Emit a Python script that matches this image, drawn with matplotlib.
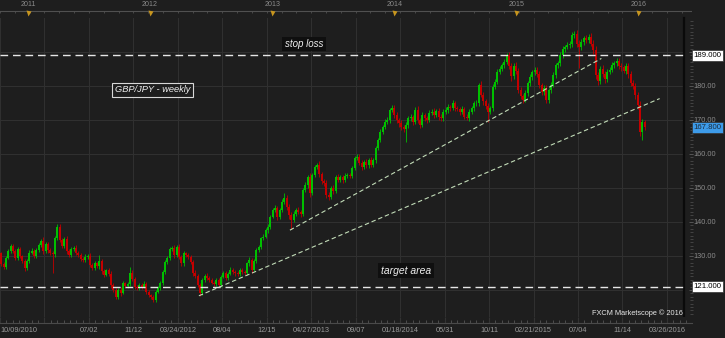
import numpy as np
import pandas as pd
import matplotlib
matplotlib.use("Agg")
import matplotlib.pyplot as plt
from matplotlib.ticker import MultipleLocator

plt.rcParams['font.family'] = ['Liberation Sans', 'DejaVu Sans']

# GBP/JPY weekly candles, first week starting 10/09/2010 (open = previous close)
start_date = pd.Timestamp("2010-10-09")
first_open = 130.8
closes = [
    127.6, 126.8, 129.5, 131.5, 132.8, 131.5, 129.5, 132.0, 130.0, 128.5,
    126.5, 128.5, 131.0, 131.5, 130.0, 131.8, 133.2, 134.5, 131.5, 133.5,
    131.8, 131.0, 130.5, 135.3, 138.5, 134.8, 133.0, 135.0, 131.5, 130.3,
    132.0, 132.5, 131.0, 130.3, 129.2, 128.8, 129.8, 130.0, 127.5, 126.5,
    127.8, 127.0, 128.5, 125.5, 124.5, 125.8, 124.8, 121.5, 120.0, 118.0,
    120.0, 119.2, 122.0, 121.2, 121.8, 125.0, 123.2, 121.0, 120.5, 121.5,
    121.0, 121.9, 119.5, 118.5, 118.0, 117.2, 119.5, 120.5, 122.0, 125.3,
    128.3, 129.3, 132.2, 132.4, 130.3, 132.7, 129.8, 127.8, 130.8, 130.3,
    129.8, 128.3, 125.0, 124.2, 121.5, 119.0, 122.8, 124.2, 123.6, 123.0,
    122.2, 121.8, 122.8, 121.6, 123.9, 124.9, 123.5, 124.8, 126.0, 125.4,
    124.9, 124.6, 125.9, 125.4, 124.9, 127.8, 128.8, 126.0, 128.5, 131.8,
    132.7, 135.2, 135.7, 137.6, 138.6, 141.6, 143.5, 144.0, 141.6, 143.5,
    146.0, 147.0, 144.5, 142.0, 140.6, 142.5, 143.5, 143.0, 142.5, 149.4,
    150.9, 153.3, 148.5, 153.8, 156.3, 156.8, 154.0, 152.0, 151.5, 148.0,
    147.5, 150.0, 149.0, 153.3, 152.5, 153.2, 152.3, 153.5, 153.8, 153.6,
    156.0, 158.7, 159.2, 157.5, 156.3, 157.7, 156.7, 158.2, 156.8, 158.2,
    161.7, 164.1, 166.6, 168.0, 169.5, 170.0, 173.0, 173.4, 171.5, 170.0,
    169.0, 168.0, 167.5, 168.5, 170.5, 170.8, 169.5, 173.0, 170.0, 168.5,
    171.5, 170.5, 170.0, 172.0, 172.5, 171.5, 172.7, 171.0, 170.5, 172.5,
    173.0, 173.9, 173.4, 174.9, 173.5, 173.3, 172.5, 173.2, 171.0, 170.5,
    172.5, 173.4, 174.9, 175.0, 180.3, 177.5, 175.5, 174.0, 172.5, 173.5,
    179.8, 181.3, 184.2, 185.0, 186.2, 187.2, 189.1, 186.0, 183.0, 186.0,
    184.5, 178.8, 177.0, 176.0, 178.0, 180.8, 182.7, 184.2, 184.7, 183.5,
    180.3, 178.3, 179.5, 175.8, 178.8, 180.3, 183.2, 186.2, 186.7, 189.1,
    191.0, 191.5, 192.0, 192.5, 195.0, 195.2, 192.5, 191.5, 193.0, 194.0,
    193.5, 194.5, 192.5, 190.5, 183.2, 181.5, 185.0, 183.5, 182.0, 184.2,
    184.7, 186.2, 186.7, 187.5, 186.0, 185.5, 184.5, 186.0, 183.5, 181.0,
    180.0, 177.3, 174.4, 166.6, 169.5, 167.8,
]
# upper / lower shadow lengths above and below the body
wick_up = [
    0.5, 0.6, 0.4, 0.5, 0.7, 0.8, 0.5, 0.6, 0.7, 0.4, 0.6, 0.5, 0.7, 0.9, 0.5, 0.6, 0.5, 0.6, 1.0, 0.5,
    0.7, 0.6, 0.5, 0.6, 0.9, 1.0, 0.6, 0.7, 0.8, 0.5, 0.6, 0.5, 0.7, 0.4, 0.6, 0.5, 0.7, 0.6, 0.8, 0.5,
    0.6, 0.5, 1.8, 0.7, 0.6, 0.5, 0.6, 0.8, 0.5, 0.6, 0.5, 0.9, 0.6, 0.5, 0.7, 1.9, 0.8, 0.6, 0.5, 0.6,
    0.5, 0.7, 0.6, 0.5, 0.4, 0.6, 0.5, 0.6, 0.7, 0.5, 0.6, 0.8, 0.5, 0.4, 0.7, 0.6, 0.9, 0.5, 0.6, 0.5,
    0.7, 0.6, 0.5, 0.8, 0.6, 0.5, 0.7, 0.6, 0.9, 0.5, 0.6, 0.5, 0.7, 0.6, 0.5, 0.6, 0.7, 0.5, 0.8, 0.6,
    0.5, 0.6, 0.7, 0.5, 0.6, 0.5, 0.8, 0.6, 0.5, 0.7, 0.6, 0.5, 0.8, 0.6, 0.7, 0.5, 0.6, 0.9, 0.7, 0.6,
    0.8, 1.5, 0.9, 0.7, 0.8, 0.6, 0.7, 0.9, 0.6, 0.7, 0.8, 0.6, 1.0, 0.7, 0.6, 0.7, 1.0, 0.8, 0.7, 0.9,
    0.8, 0.7, 0.9, 0.6, 0.8, 0.7, 0.6, 0.8, 0.6, 0.7, 0.6, 0.7, 0.8, 0.9, 0.7, 0.6, 0.8, 0.7, 0.9, 0.6,
    0.7, 0.6, 0.8, 0.6, 0.7, 0.8, 0.6, 1.1, 1.0, 0.8, 0.7, 0.9, 0.6, 0.8, 0.7, 0.9, 0.8, 0.7, 1.0, 0.7,
    0.8, 0.7, 0.6, 0.8, 0.7, 0.9, 0.6, 0.8, 0.7, 0.6, 0.8, 0.7, 0.6, 0.9, 0.8, 0.7, 0.6, 0.8, 0.7, 0.9,
    0.6, 0.7, 0.8, 0.9, 0.7, 1.2, 0.8, 0.7, 0.9, 0.6, 0.8, 0.7, 0.9, 0.8, 0.7, 0.6, 0.5, 1.0, 0.9, 0.8,
    1.1, 0.9, 0.8, 0.7, 0.9, 0.8, 0.7, 0.6, 0.9, 0.8, 1.0, 0.7, 0.9, 0.8, 0.7, 0.8, 0.9, 0.7, 0.8, 0.9,
    0.8, 0.7, 0.9, 0.8, 1.0, 0.9, 1.2, 0.9, 0.8, 0.7, 0.9, 0.8, 1.0, 1.1, 1.3, 1.0, 0.9, 1.1, 0.8, 0.7,
    0.8, 0.9, 0.7, 0.8, 0.6, 0.9, 0.8, 0.7, 0.9, 1.0, 0.8, 0.9, 1.0, 1.2, 0.9, 0.5,
]
wick_dn = [
    0.6, 0.7, 0.5, 0.4, 0.6, 0.5, 0.8, 0.6, 0.5, 0.7, 0.8, 0.5, 0.6, 0.4, 0.7, 0.5, 0.6, 0.5, 0.9, 0.6,
    0.8, 0.6, 5.5, 0.7, 0.6, 0.8, 0.7, 0.5, 0.9, 0.6, 0.5, 0.6, 0.7, 0.5, 0.6, 0.7, 0.5, 0.6, 0.8, 0.7,
    0.5, 0.6, 0.7, 0.9, 0.6, 0.5, 0.7, 0.8, 0.6, 0.7, 0.6, 0.9, 0.5, 0.6, 0.5, 0.7, 0.6, 0.8, 0.6, 0.5,
    0.6, 0.5, 0.7, 0.6, 0.5, 0.7, 0.6, 0.5, 0.6, 0.5, 0.7, 0.6, 0.5, 0.6, 0.8, 0.6, 0.7, 0.8, 0.6, 0.5,
    0.6, 0.7, 0.8, 0.6, 0.7, 0.7, 0.6, 0.5, 0.7, 0.6, 0.5, 0.7, 0.6, 0.8, 0.6, 0.5, 0.7, 0.6, 0.5, 0.6,
    0.7, 0.5, 0.6, 0.7, 0.6, 0.5, 0.6, 0.9, 0.5, 0.6, 0.5, 0.7, 0.6, 0.5, 0.7, 0.6, 0.5, 0.6, 1.0, 0.7,
    0.6, 0.8, 0.9, 1.0, 2.8, 0.7, 0.8, 0.6, 0.9, 0.7, 0.6, 0.8, 1.0, 0.7, 0.6, 0.8, 0.7, 0.9, 0.8, 1.0,
    0.9, 0.7, 0.8, 0.6, 0.8, 0.7, 0.9, 0.6, 0.7, 0.8, 0.6, 0.7, 0.6, 0.8, 0.9, 0.7, 0.8, 0.9, 0.7, 0.6,
    0.7, 0.6, 0.7, 0.8, 0.6, 0.7, 0.8, 0.7, 0.9, 0.8, 1.0, 0.9, 1.1, 3.9, 0.8, 0.7, 0.9, 0.8, 1.0, 0.9,
    0.7, 0.8, 0.9, 0.7, 0.6, 0.8, 0.7, 0.9, 0.8, 0.7, 0.6, 0.8, 0.7, 0.6, 0.8, 0.7, 0.9, 0.7, 0.8, 0.6,
    0.7, 0.6, 0.8, 0.7, 0.9, 0.8, 1.0, 0.9, 3.0, 0.8, 0.9, 0.7, 0.8, 0.7, 0.6, 0.8, 0.7, 0.9, 1.5, 1.0,
    0.9, 1.0, 0.9, 1.1, 0.8, 0.9, 0.7, 0.8, 0.9, 0.8, 1.0, 0.9, 0.8, 0.7, 0.8, 0.9, 0.7, 0.8, 0.9, 0.7,
    0.8, 0.9, 0.7, 0.8, 0.9, 1.0, 0.9, 6.3, 0.8, 0.9, 0.8, 0.9, 0.8, 1.0, 1.1, 1.2, 1.0, 0.9, 1.1, 0.9,
    0.8, 0.7, 0.9, 0.8, 0.9, 1.0, 0.8, 0.9, 1.1, 1.0, 0.9, 1.0, 1.2, 1.3, 2.5, 0.6,
]

stop_loss = 189.0
target = 121.0
last_price = 167.8
price_labels = [120, 130, 140, 150, 160, 170, 180]

# trend lines as (week index, price) end points
upper_trend = [(123.9, 137.6), (257.0, 188.1)]
lower_trend = [(85.0, 118.3), (281.9, 176.3)]

date_labels = ["10/09/2010", "", "07/02", "11/12", "03/24/2012", "08/04", "12/15",
               "04/27/2013", "09/07", "01/18/2014", "05/31", "10/11", "02/21/2015",
               "07/04", "11/14", "03/26/2016"]
years = [2011, 2012, 2013, 2014, 2015, 2016]

BG = '#1e1e1e'
GREEN = '#00c000'
RED = '#c40000'
W, H = 725, 338
PX = 2.34  # pixels per week


def box(l, t, r, b):
    return [l / W, 1 - b / H, (r - l) / W, (b - t) / H]


def weeks(dates):
    return (pd.DatetimeIndex(dates) - start_date).days.values / 7.0


fig = plt.figure(figsize=(W / 100, H / 100), dpi=100, facecolor=BG)

ax = fig.add_axes(box(0, 18, 684, 317))
ax.set_facecolor(BG)
ax.set_xlim(0, 684 / PX)
ax.set_ylim(112.06, 200.0)

grid_dates = pd.date_range(start_date, periods=len(date_labels), freq='133D')
grid_x = weeks(grid_dates)
ax.set_xticks(grid_x)
ax.set_yticks(np.arange(120, 200, 10))
ax.grid(True, color='#303030', lw=0.8)
ax.set_axisbelow(True)
ax.tick_params(length=0, labelbottom=False, labelleft=False)
for s in ['top', 'left', 'bottom']:
    ax.spines[s].set_visible(False)
ax.spines['right'].set_color('#0a0a0a')
ax.spines['right'].set_linewidth(1.6)

c = np.array(closes)
o = np.r_[first_open, c[:-1]]
hi = np.maximum(o, c) + np.array(wick_up)
lo = np.minimum(o, c) - np.array(wick_dn)
x = np.arange(len(c)) + 0.5
cols = np.where(c >= o, GREEN, RED)
ax.vlines(x, lo, hi, colors=cols, lw=0.6, zorder=3)
ax.bar(x, np.maximum(np.abs(c - o), 0.2), bottom=np.minimum(o, c), width=0.85,
       color=cols, linewidth=0, zorder=3)

for lvl in (stop_loss, target):
    ax.axhline(lvl, color='#e6e6e6', lw=1.0, ls=(0, (5.5, 3.5)), zorder=4)
for seg in (upper_trend, lower_trend):
    sx, sy = zip(*seg)
    ax.plot(sx, sy, color='#c2dcb8', lw=0.8, ls=(0, (4, 2.5)), zorder=4)

# bottom date band
bx = fig.add_axes(box(0, 317, 692, 323))
bx.set_facecolor(BG)
bx.set_xlim(0, 692 / PX)
bx.set_ylim(0, 1)
bx.set_yticks([])
for s in ['top', 'left', 'right']:
    bx.spines[s].set_visible(False)
bx.spines['bottom'].set_color('#4a4a4a')
bx.set_xticks(grid_x)
bx.set_xticklabels(date_labels)
bx.xaxis.set_minor_locator(MultipleLocator(19 / 7))
bx.tick_params(which='major', direction='in', length=4.3, width=0.8, color='#333333',
               labelsize=5.3, labelcolor='#9a9a9a', pad=3)
bx.tick_params(which='minor', direction='in', length=2.0, width=0.6, color='#555555')
bx.get_xticklabels()[0].set_ha('left')

# top year band
tx = fig.add_axes(box(0, 0, 692, 18))
tx.set_xlim(0, 692 / PX)
tx.set_ylim(18, 0)
tx.axis('off')
tx.axhline(10.5, color='#505050', lw=0.8)
tx.vlines(np.arange(0, 692 / PX, 19 / 3), 10.5, 13, color='#505050', lw=0.6)
year_x = weeks(pd.to_datetime([f'{y}-01-01' for y in years]))
tx.plot(year_x, [13.3] * len(years), 'v', color='#c8961e', ms=3.6, mec='none')
for yx, yr in zip(year_x, years):
    tx.text(yx, 5, str(yr), ha='center', va='center', fontsize=5.1, color='#8a8a8a')

# right price scale
rx = fig.add_axes(box(684, 18, 725, 317))
rx.set_xlim(0, 41)
rx.set_ylim(ax.get_ylim())
rx.axis('off')
rx.hlines(np.arange(113, 200), 5.5, 8.5, color='#4a4a4a', lw=0.6)
rx.hlines(np.arange(120, 200, 10), 4.5, 8.5, color='#555555', lw=0.7)
for v in price_labels:
    rx.text(9.5, v, f'{v:.2f}', fontsize=5.3, color='#8a8a8a', va='center', ha='left')
for lvl, fc, tc in ((stop_loss, 'white', 'black'), (target, 'white', 'black'),
                    (last_price, '#3d9be9', '#1c2c3c')):
    rx.text(9.5, lvl, f'{lvl:.3f}', fontsize=5.6, color=tc, va='center', ha='left', zorder=5,
            bbox=dict(boxstyle='square,pad=0.22', fc=fc, ec='#333333', lw=0.5))

# annotations
fig.text(304 / W, 1 - 44 / H, 'stop loss', ha='center', va='center', fontsize=7,
         style='italic', color='#eeeeee',
         bbox=dict(boxstyle='square,pad=0.25', fc='#0f0f0f', ec='none'))
fig.text(152.5 / W, 1 - 90 / H, 'GBP/JPY - weekly', ha='center', va='center', fontsize=6.7,
         style='italic', color='#eeeeee',
         bbox=dict(boxstyle='square,pad=0.25', fc=BG, ec='#d8d8d8', lw=0.8))
fig.text(406 / W, 1 - 270.5 / H, 'target area', ha='center', va='center', fontsize=7.5,
         style='italic', color='#eeeeee',
         bbox=dict(boxstyle='square,pad=0.25', fc='#0f0f0f', ec='none'))
fig.text(683 / W, 1 - 313 / H, 'FXCM Marketscope \u00a9 2016', ha='right', va='center',
         fontsize=5.3, color='#e6e6e6')

fig.savefig('out.png', dpi=100, facecolor=BG)
